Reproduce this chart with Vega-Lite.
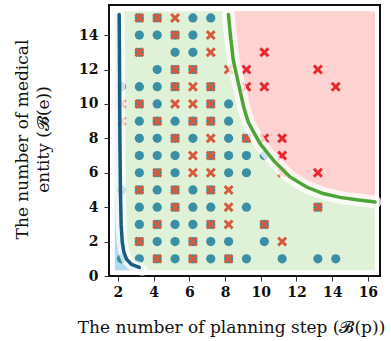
{
  "$schema": "https://vega.github.io/schema/vega-lite/v6.json",
  "width": 271,
  "height": 271,
  "autosize": {"type": "none"},
  "padding": {"left": 109, "top": 5, "right": 11, "bottom": 65},
  "background": "white",
  "config": {
    "view": {"stroke": "#111111", "strokeWidth": 2},
    "axis": {
      "grid": false,
      "domain": false,
      "tickColor": "#333333",
      "tickSize": 5,
      "labelFont": "DejaVu Serif",
      "labelFontWeight": "bold",
      "labelFontSize": 14,
      "labelColor": "#111111",
      "labelPadding": 4,
      "titleFont": "DejaVu Serif",
      "titleFontWeight": "normal",
      "titleFontSize": 17,
      "titleColor": "#111111"
    }
  },
  "datasets": {
    "region": [{"step": 1.83, "step_end": 16.4, "entity": 0.33, "entity_end": 15.39}],
    "blue": [
      {"step": 3.35, "entity": 0.33},
      {"step": 3.2, "entity": 0.5},
      {"step": 2.75, "entity": 0.68},
      {"step": 2.48, "entity": 0.98},
      {"step": 2.33, "entity": 1.4},
      {"step": 2.24, "entity": 2},
      {"step": 2.18, "entity": 3},
      {"step": 2.14, "entity": 5},
      {"step": 2.11, "entity": 8},
      {"step": 2.09, "entity": 12},
      {"step": 2.07, "entity": 15.2}
    ],
    "green": [
      {"step": 8.19, "entity": 15.2},
      {"step": 8.3, "entity": 14.0},
      {"step": 8.46, "entity": 12.54},
      {"step": 8.75, "entity": 11.2},
      {"step": 9.05, "entity": 9.8},
      {"step": 9.3, "entity": 8.95},
      {"step": 9.58, "entity": 8.4},
      {"step": 9.96, "entity": 7.7},
      {"step": 10.7, "entity": 6.73},
      {"step": 11.64, "entity": 5.76},
      {"step": 12.57, "entity": 5.17},
      {"step": 13.5, "entity": 4.79},
      {"step": 14.44, "entity": 4.57},
      {"step": 15.37, "entity": 4.43},
      {"step": 16.4, "entity": 4.3}
    ],
    "pts": [
      {"step": 3.2, "entity": 15, "marker": "circle"}, {"step": 3.2, "entity": 15, "marker": "cross"},
      {"step": 4.2, "entity": 15, "marker": "circle"}, {"step": 4.2, "entity": 15, "marker": "cross"},
      {"step": 5.2, "entity": 15, "marker": "cross"},
      {"step": 6.2, "entity": 15, "marker": "circle"},
      {"step": 7.2, "entity": 15, "marker": "circle"},

      {"step": 3.2, "entity": 14, "marker": "circle"},
      {"step": 4.2, "entity": 14, "marker": "circle"},
      {"step": 5.2, "entity": 14, "marker": "circle"}, {"step": 5.2, "entity": 14, "marker": "cross"},
      {"step": 6.2, "entity": 14, "marker": "circle"},
      {"step": 7.2, "entity": 14, "marker": "cross"},

      {"step": 3.2, "entity": 13, "marker": "circle"}, {"step": 3.2, "entity": 13, "marker": "cross"},
      {"step": 5.2, "entity": 13, "marker": "circle"},
      {"step": 6.2, "entity": 13, "marker": "circle"},
      {"step": 7.2, "entity": 13, "marker": "cross"},
      {"step": 10.2, "entity": 13, "marker": "red"},

      {"step": 4.2, "entity": 12, "marker": "circle"},
      {"step": 5.2, "entity": 12, "marker": "circle"}, {"step": 5.2, "entity": 12, "marker": "cross"},
      {"step": 6.2, "entity": 12, "marker": "circle"}, {"step": 6.2, "entity": 12, "marker": "cross"},
      {"step": 8.2, "entity": 12, "marker": "cross"},
      {"step": 9.2, "entity": 12, "marker": "red"},
      {"step": 13.2, "entity": 12, "marker": "red"},

      {"step": 2.2, "entity": 11, "marker": "circle"},
      {"step": 3.2, "entity": 11, "marker": "circle"},
      {"step": 4.2, "entity": 11, "marker": "circle"},
      {"step": 5.2, "entity": 11, "marker": "circle"}, {"step": 5.2, "entity": 11, "marker": "cross"},
      {"step": 6.2, "entity": 11, "marker": "cross"},
      {"step": 7.2, "entity": 11, "marker": "circle"}, {"step": 7.2, "entity": 11, "marker": "cross"},
      {"step": 9.2, "entity": 11, "marker": "red"},
      {"step": 10.2, "entity": 11, "marker": "red"},
      {"step": 14.2, "entity": 11, "marker": "red"},

      {"step": 2.2, "entity": 10, "marker": "cross"},
      {"step": 3.2, "entity": 10, "marker": "circle"}, {"step": 3.2, "entity": 10, "marker": "cross"},
      {"step": 4.2, "entity": 10, "marker": "circle"},
      {"step": 5.2, "entity": 10, "marker": "cross"},
      {"step": 6.2, "entity": 10, "marker": "cross"},
      {"step": 7.2, "entity": 10, "marker": "circle"}, {"step": 7.2, "entity": 10, "marker": "cross"},
      {"step": 8.2, "entity": 10, "marker": "circle"},

      {"step": 2.2, "entity": 9, "marker": "cross"},
      {"step": 3.2, "entity": 9, "marker": "circle"},
      {"step": 4.2, "entity": 9, "marker": "circle"}, {"step": 4.2, "entity": 9, "marker": "cross"},
      {"step": 5.2, "entity": 9, "marker": "circle"},
      {"step": 6.2, "entity": 9, "marker": "circle"}, {"step": 6.2, "entity": 9, "marker": "cross"},
      {"step": 7.2, "entity": 9, "marker": "circle"}, {"step": 7.2, "entity": 9, "marker": "cross"},
      {"step": 8.2, "entity": 9, "marker": "circle"},

      {"step": 3.2, "entity": 8, "marker": "circle"},
      {"step": 4.2, "entity": 8, "marker": "circle"},
      {"step": 5.2, "entity": 8, "marker": "circle"}, {"step": 5.2, "entity": 8, "marker": "cross"},
      {"step": 6.2, "entity": 8, "marker": "circle"},
      {"step": 7.2, "entity": 8, "marker": "cross"},
      {"step": 8.2, "entity": 8, "marker": "circle"},
      {"step": 9.2, "entity": 8, "marker": "circle"}, {"step": 9.2, "entity": 8, "marker": "cross"},
      {"step": 10.2, "entity": 8, "marker": "red"},
      {"step": 11.2, "entity": 8, "marker": "red"},

      {"step": 3.2, "entity": 7, "marker": "circle"},
      {"step": 4.2, "entity": 7, "marker": "circle"},
      {"step": 5.2, "entity": 7, "marker": "circle"},
      {"step": 6.2, "entity": 7, "marker": "cross"},
      {"step": 7.2, "entity": 7, "marker": "circle"}, {"step": 7.2, "entity": 7, "marker": "cross"},
      {"step": 8.2, "entity": 7, "marker": "circle"},
      {"step": 9.2, "entity": 7, "marker": "circle"},
      {"step": 10.2, "entity": 7, "marker": "circle"},
      {"step": 11.2, "entity": 7, "marker": "red"},

      {"step": 3.2, "entity": 6, "marker": "circle"},
      {"step": 4.2, "entity": 6, "marker": "circle"}, {"step": 4.2, "entity": 6, "marker": "cross"},
      {"step": 5.2, "entity": 6, "marker": "circle"},
      {"step": 6.2, "entity": 6, "marker": "cross"},
      {"step": 7.2, "entity": 6, "marker": "cross"},
      {"step": 8.2, "entity": 6, "marker": "circle"},
      {"step": 9.2, "entity": 6, "marker": "circle"},
      {"step": 11.2, "entity": 6, "marker": "cross"},
      {"step": 13.2, "entity": 6, "marker": "red"},

      {"step": 2.2, "entity": 5, "marker": "circle"},
      {"step": 3.2, "entity": 5, "marker": "circle"}, {"step": 3.2, "entity": 5, "marker": "cross"},
      {"step": 4.2, "entity": 5, "marker": "circle"},
      {"step": 5.2, "entity": 5, "marker": "circle"}, {"step": 5.2, "entity": 5, "marker": "cross"},
      {"step": 6.2, "entity": 5, "marker": "circle"},
      {"step": 7.2, "entity": 5, "marker": "circle"}, {"step": 7.2, "entity": 5, "marker": "cross"},
      {"step": 8.2, "entity": 5, "marker": "cross"},

      {"step": 3.2, "entity": 4, "marker": "circle"},
      {"step": 4.2, "entity": 4, "marker": "circle"},
      {"step": 5.2, "entity": 4, "marker": "circle"}, {"step": 5.2, "entity": 4, "marker": "cross"},
      {"step": 6.2, "entity": 4, "marker": "circle"},
      {"step": 7.2, "entity": 4, "marker": "circle"},
      {"step": 8.2, "entity": 4, "marker": "cross"},
      {"step": 9.2, "entity": 4, "marker": "circle"},
      {"step": 13.2, "entity": 4, "marker": "circle"}, {"step": 13.2, "entity": 4, "marker": "cross"},

      {"step": 3.2, "entity": 3, "marker": "circle"},
      {"step": 4.2, "entity": 3, "marker": "circle"}, {"step": 4.2, "entity": 3, "marker": "cross"},
      {"step": 5.2, "entity": 3, "marker": "circle"},
      {"step": 6.2, "entity": 3, "marker": "circle"},
      {"step": 7.2, "entity": 3, "marker": "circle"}, {"step": 7.2, "entity": 3, "marker": "cross"},
      {"step": 8.2, "entity": 3, "marker": "cross"},
      {"step": 10.2, "entity": 3, "marker": "circle"}, {"step": 10.2, "entity": 3, "marker": "cross"},

      {"step": 3.2, "entity": 2, "marker": "circle"}, {"step": 3.2, "entity": 2, "marker": "cross"},
      {"step": 4.2, "entity": 2, "marker": "circle"},
      {"step": 5.2, "entity": 2, "marker": "circle"},
      {"step": 6.2, "entity": 2, "marker": "circle"}, {"step": 6.2, "entity": 2, "marker": "cross"},
      {"step": 7.2, "entity": 2, "marker": "circle"},
      {"step": 8.2, "entity": 2, "marker": "circle"},
      {"step": 10.2, "entity": 2, "marker": "circle"},
      {"step": 11.2, "entity": 2, "marker": "cross"},

      {"step": 2.2, "entity": 1, "marker": "circle"},
      {"step": 3.2, "entity": 1, "marker": "circle"},
      {"step": 4.2, "entity": 1, "marker": "circle"}, {"step": 4.2, "entity": 1, "marker": "cross"},
      {"step": 5.2, "entity": 1, "marker": "circle"},
      {"step": 6.2, "entity": 1, "marker": "circle"}, {"step": 6.2, "entity": 1, "marker": "cross"},
      {"step": 7.2, "entity": 1, "marker": "circle"},
      {"step": 8.2, "entity": 1, "marker": "circle"}, {"step": 8.2, "entity": 1, "marker": "cross"},
      {"step": 9.2, "entity": 1, "marker": "circle"},
      {"step": 11.2, "entity": 1, "marker": "circle"},
      {"step": 13.2, "entity": 1, "marker": "circle"},
      {"step": 14.2, "entity": 1, "marker": "circle"}
    ]
  },
  "layer": [
    {
      "data": {"name": "region"},
      "mark": {"type": "rect", "fill": "#dff2d7"},
      "encoding": {
        "x": {
          "field": "step", "type": "quantitative",
          "scale": {"domain": [1.5, 16.68], "nice": false, "zero": false},
          "axis": {
            "values": [2, 4, 6, 8, 10, 12, 14, 16],
            "tickCount": 20,
            "labelOverlap": false,
            "labelBound": false,
            "labelFlush": false,
            "title": "The number of planning step (𝓑(p))",
            "titleX": 122, "titleY": 56, "titleBaseline": "alphabetic", "titleAlign": "center", "titleAnchor": null
          }
        },
        "x2": {"field": "step_end"},
        "y": {
          "field": "entity", "type": "quantitative",
          "scale": {"domain": [0, 15.75], "nice": false, "zero": false},
          "axis": {
            "values": [0, 2, 4, 6, 8, 10, 12, 14],
            "tickCount": 20,
            "labelOverlap": false,
            "labelBound": false,
            "labelFlush": false,
            "labelPadding": 6,
            "title": ["The number of medical", "entity (𝓑(e))"],
            "titleLineHeight": 21,
            "titleX": -78, "titleY": 134, "titleAngle": 270, "titleBaseline": "bottom", "titleAlign": "center", "titleAnchor": null
          }
        },
        "y2": {"field": "entity_end"}
      }
    },
    {
      "data": {"name": "blue"},
      "mark": {"type": "area", "orient": "horizontal", "fill": "#b2daf1"},
      "encoding": {
        "y": {"field": "entity", "type": "quantitative"},
        "x": {"field": "step", "type": "quantitative"},
        "x2": {"datum": 1.83}
      }
    },
    {
      "data": {"name": "green"},
      "mark": {"type": "area", "fill": "#ffd2d2"},
      "encoding": {
        "x": {"field": "step", "type": "quantitative"},
        "y": {"field": "entity", "type": "quantitative"},
        "y2": {"datum": 15.39}
      }
    },
    {
      "data": {"name": "pts"},
      "transform": [{"filter": "datum.marker === 'circle'"}],
      "mark": {"type": "point", "shape": "circle", "filled": true, "size": 85, "color": "#3b8fa5", "opacity": 1},
      "encoding": {
        "x": {"field": "step", "type": "quantitative"},
        "y": {"field": "entity", "type": "quantitative"}
      }
    },
    {
      "data": {"name": "pts"},
      "transform": [{"filter": "datum.marker !== 'circle'"}],
      "mark": {"type": "point", "shape": "M-1,-0.58L-0.58,-1L0,-0.42L0.58,-1L1,-0.58L0.42,0L1,0.58L0.58,1L0,0.42L-0.58,1L-1,0.58L-0.42,0Z", "filled": true, "size": 100, "opacity": 1},
      "encoding": {
        "x": {"field": "step", "type": "quantitative"},
        "y": {"field": "entity", "type": "quantitative"},
        "color": {"field": "marker", "type": "nominal", "scale": {"domain": ["cross", "red"], "range": ["#d65a3b", "#e8262b"]}, "legend": null}
      }
    },
    {
      "data": {"name": "blue"},
      "mark": {"type": "line", "stroke": "white", "strokeWidth": 11, "opacity": 0.75, "strokeCap": "round"},
      "encoding": {
        "x": {"field": "step", "type": "quantitative"},
        "y": {"field": "entity", "type": "quantitative"}
      }
    },
    {
      "data": {"name": "green"},
      "mark": {"type": "line", "stroke": "white", "strokeWidth": 13, "opacity": 0.75, "strokeCap": "round"},
      "encoding": {
        "x": {"field": "step", "type": "quantitative"},
        "y": {"field": "entity", "type": "quantitative"}
      }
    },
    {
      "data": {"name": "blue"},
      "transform": [{"filter": "datum.entity > 0.4"}],
      "mark": {"type": "line", "stroke": "#1b5d80", "strokeWidth": 3.5, "strokeCap": "round"},
      "encoding": {
        "x": {"field": "step", "type": "quantitative"},
        "y": {"field": "entity", "type": "quantitative"}
      }
    },
    {
      "data": {"name": "green"},
      "mark": {"type": "line", "stroke": "#4ba637", "strokeWidth": 3.5, "strokeCap": "round"},
      "encoding": {
        "x": {"field": "step", "type": "quantitative"},
        "y": {"field": "entity", "type": "quantitative"}
      }
    }
  ]
}
